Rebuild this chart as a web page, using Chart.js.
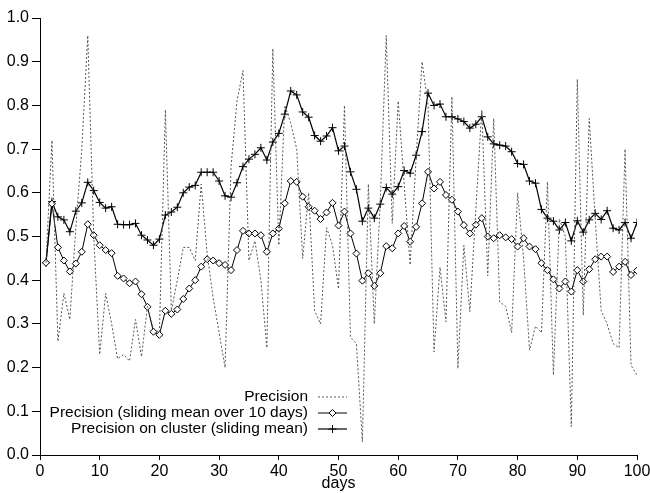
<!DOCTYPE html>
<html>
<head>
<meta charset="utf-8">
<script src="https://cdn.jsdelivr.net/npm/chart.js@4/dist/chart.umd.min.js"></script>
<style>
  html, body { margin: 0; padding: 0; background: #fff; }
  #wrap { width: 650px; height: 493px; position: relative; }
</style>
</head>
<body>
<div id="wrap"><canvas id="chart"></canvas></div>
<script>
// --- data ---
const days = [1, 2, 3, 4, 5, 6, 7, 8, 9, 10, 11, 12, 13, 14, 15, 16, 17, 18, 19, 20,
  21, 22, 23, 24, 25, 26, 27, 28, 29, 30, 31, 32, 33, 34, 35, 36, 37, 38, 39, 40,
  41, 42, 43, 44, 45, 46, 47, 48, 49, 50, 51, 52, 53, 54, 55, 56, 57, 58, 59, 60,
  61, 62, 63, 64, 65, 66, 67, 68, 69, 70, 71, 72, 73, 74, 75, 76, 77, 78, 79, 80,
  81, 82, 83, 84, 85, 86, 87, 88, 89, 90, 91, 92, 93, 94, 95, 96, 97, 98, 99, 100];

const precision = [0.44, 0.72, 0.26, 0.37, 0.31, 0.52, 0.70, 0.96, 0.50, 0.23,
  0.37, 0.30, 0.22, 0.23, 0.215, 0.31, 0.225, 0.34, 0.29, 0.28,
  0.79, 0.33, 0.40, 0.475, 0.475, 0.445, 0.62, 0.46, 0.36, 0.28,
  0.20, 0.66, 0.81, 0.88, 0.445, 0.49, 0.40, 0.245, 0.93, 0.48,
  0.80, 0.76, 0.70, 0.45, 0.60, 0.33, 0.30, 0.52, 0.48, 0.38,
  0.80, 0.27, 0.255, 0.03, 0.62, 0.30, 0.58, 0.96, 0.53, 0.81,
  0.62, 0.435, 0.68, 0.90, 0.80, 0.236, 0.43, 0.305, 0.82, 0.198,
  0.48, 0.328, 0.56, 0.79, 0.41, 0.77, 0.35, 0.34, 0.28, 0.60,
  0.45, 0.24, 0.295, 0.28, 0.625, 0.183, 0.54, 0.50, 0.065, 0.86,
  0.32, 0.77, 0.54, 0.33, 0.30, 0.255, 0.245, 0.70, 0.205, 0.183];

const slidingMean = [0.44, 0.575, 0.475, 0.445, 0.42, 0.438, 0.465, 0.528, 0.503, 0.48,
  0.469, 0.462, 0.41, 0.404, 0.393, 0.397, 0.368, 0.339, 0.282, 0.275,
  0.33, 0.323, 0.333, 0.357, 0.381, 0.40, 0.431, 0.448, 0.445, 0.439,
  0.435, 0.423, 0.469, 0.513, 0.507, 0.507, 0.503, 0.465, 0.507, 0.518,
  0.576, 0.627, 0.625, 0.591, 0.568, 0.559, 0.54, 0.555, 0.577, 0.525,
  0.557, 0.507, 0.461, 0.399, 0.416, 0.387, 0.416, 0.478, 0.473, 0.507,
  0.524, 0.488, 0.522, 0.576, 0.648, 0.61, 0.625, 0.595, 0.584, 0.557,
  0.526, 0.507, 0.527, 0.542, 0.50, 0.496, 0.503, 0.498, 0.494, 0.477,
  0.496, 0.477, 0.471, 0.439, 0.423, 0.402, 0.381, 0.397, 0.374, 0.423,
  0.397, 0.425, 0.448, 0.454, 0.454, 0.419, 0.431, 0.442, 0.412, 0.422];

const clusterMean = [0.44, 0.58, 0.545, 0.538, 0.511, 0.558, 0.577, 0.624, 0.605, 0.578,
  0.565, 0.568, 0.528, 0.527, 0.527, 0.53, 0.503, 0.492, 0.48, 0.494,
  0.549, 0.556, 0.567, 0.60, 0.613, 0.617, 0.647, 0.647, 0.647, 0.627,
  0.593, 0.59, 0.623, 0.66, 0.677, 0.688, 0.703, 0.675, 0.716, 0.736,
  0.78, 0.833, 0.824, 0.785, 0.773, 0.731, 0.718, 0.73, 0.749, 0.696,
  0.707, 0.648, 0.608, 0.535, 0.565, 0.542, 0.574, 0.612, 0.597, 0.614,
  0.651, 0.645, 0.686, 0.74, 0.828, 0.80, 0.803, 0.774, 0.774, 0.769,
  0.763, 0.748, 0.757, 0.774, 0.728, 0.712, 0.709, 0.707, 0.694, 0.667,
  0.665, 0.627, 0.622, 0.562, 0.542, 0.535, 0.515, 0.532, 0.49, 0.536,
  0.51, 0.538, 0.553, 0.539, 0.559, 0.519, 0.515, 0.532, 0.496, 0.532];

const xTicks = [0, 10, 20, 30, 40, 50, 60, 70, 80, 90, 100];
const yTicks = [0.0, 0.1, 0.2, 0.3, 0.4, 0.5, 0.6, 0.7, 0.8, 0.9, 1.0];

const labels = [
  "Precision",
  "Precision (sliding mean over 10 days)",
  "Precision on cluster (sliding mean)"
];

const FONT = "'Liberation Sans', Arial, sans-serif";
const toPoints = (vals) => days.map((d, i) => ({ x: d, y: vals[i] }));

// Legend in the lower middle: text right aligned, sample on the right
const sideLegend = {
  id: 'sideLegend',
  afterDraw(chart) {
    const ctx = chart.ctx;
    const textRight = 308, sx0 = 318, sx1 = 347;
    const rows = [397, 413, 429];
    ctx.save();
    ctx.textAlign = 'right';
    ctx.textBaseline = 'middle';
    chart.data.datasets.forEach((ds, i) => {
      const y = rows[i];
      ctx.font = "15.5px " + FONT;
      ctx.fillStyle = '#000';
      ctx.fillText(ds.label, textRight, y);
      ctx.beginPath();
      ctx.strokeStyle = ds.borderColor;
      ctx.lineWidth = ds.borderWidth;
      ctx.setLineDash(ds.borderDash || []);
      ctx.moveTo(sx0, y);
      ctx.lineTo(sx1, y);
      ctx.stroke();
      ctx.setLineDash([]);
      if (ds.pointRadius > 0) {
        ctx.fillStyle = ds.pointBackgroundColor;
        ctx.strokeStyle = ds.pointBorderColor;
        ctx.lineWidth = 1;
        Chart.helpers.drawPoint(ctx, {
          pointStyle: ds.pointStyle,
          radius: ds.pointRadius,
          borderWidth: 1
        }, (sx0 + sx1) / 2, y);
      }
    });
    ctx.restore();
  }
};

const ctx = document.getElementById('chart').getContext('2d');
new Chart(ctx, {
  type: 'line',
  data: {
    datasets: [
      {
        label: labels[0],
        data: toPoints(precision),
        borderColor: '#555',
        borderWidth: 1,
        borderDash: [2, 2],
        pointRadius: 0,
        tension: 0
      },
      {
        label: labels[1],
        data: toPoints(slidingMean),
        borderColor: '#000',
        borderWidth: 1,
        pointStyle: 'rectRot',
        pointRadius: 3.5,
        pointBorderWidth: 1,
        pointBorderColor: '#000',
        pointBackgroundColor: '#fff',
        tension: 0
      },
      {
        label: labels[2],
        data: toPoints(clusterMean),
        borderColor: '#000',
        borderWidth: 1.2,
        pointStyle: 'cross',
        pointRadius: 4,
        pointBorderWidth: 1,
        pointBorderColor: '#000',
        pointBackgroundColor: '#000',
        tension: 0
      }
    ]
  },
  options: {
    responsive: true,
    maintainAspectRatio: false,
    animation: false,
    layout: { padding: { left: 0, right: 13, top: 18, bottom: 0 } },
    plugins: {
      legend: { display: false },
      tooltip: { enabled: false }
    },
    scales: {
      x: {
        type: 'linear',
        min: 0,
        max: 100,
        afterFit: (s) => { s.height = 38; s.paddingLeft = 0; s.paddingRight = 0; },
        afterBuildTicks: (s) => { s.ticks = xTicks.map(v => ({ value: v })); },
        grid: { drawOnChartArea: false, drawTicks: true, tickLength: 5, color: '#000' },
        border: { display: true, color: '#000', dash: [1, 2] },
        ticks: { color: '#000', font: { family: FONT, size: 16 }, padding: 2, maxRotation: 0 },
        title: { display: true, text: 'days', color: '#000', font: { family: FONT, size: 16 }, padding: 0 }
      },
      y: {
        min: 0,
        max: 1,
        afterFit: (s) => { s.width = 40; s.paddingTop = 0; s.paddingBottom = 0; },
        afterBuildTicks: (s) => { s.ticks = yTicks.map(v => ({ value: v })); },
        grid: { drawOnChartArea: false, drawTicks: true, tickLength: 8, color: '#000' },
        border: { display: true, color: '#000', dash: [1, 2] },
        ticks: {
          color: '#000',
          font: { family: FONT, size: 16 },
          padding: 3,
          callback: (v) => Number(v).toFixed(1)
        }
      }
    }
  },
  plugins: [sideLegend]
});
</script>
</body>
</html>
